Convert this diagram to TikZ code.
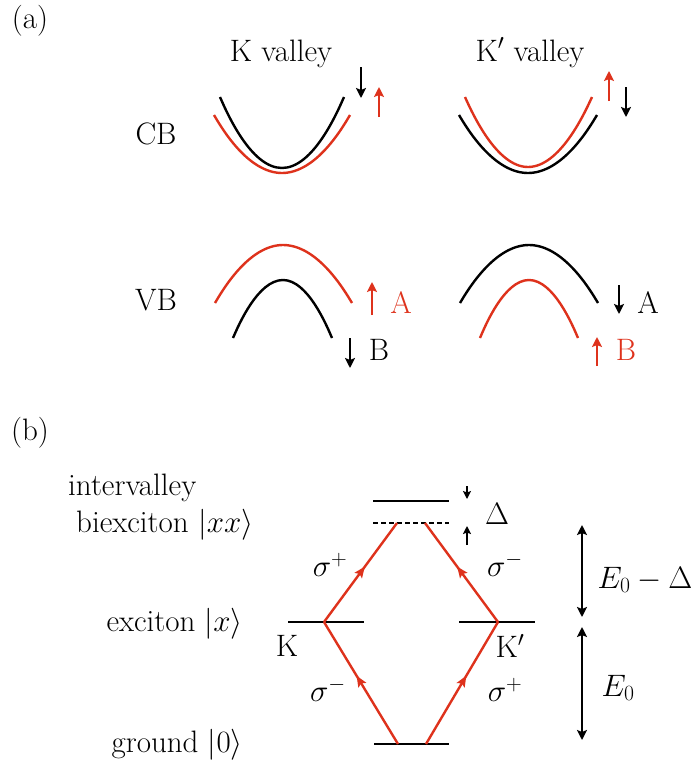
\RequirePackage{fix-cm}
\documentclass[tikz,border=0pt]{standalone}
\usetikzlibrary{arrows.meta,decorations.markings}
\definecolor{bandred}{RGB}{222,50,28}
\begin{document}
\begin{tikzpicture}[x=1pt,y=-1pt,
  lbl/.style={inner sep=0pt,font=\fontsize{31}{36}\selectfont},
  band/.style={line width=2.4pt},
  spin/.style={line width=2pt,-{Stealth[length=10pt,width=10pt,inset=2pt]}},
  smallspin/.style={line width=1.8pt,-{Stealth[length=8pt,width=8pt,inset=1.5pt]}},
  level/.style={line width=2.2pt},
  dlevel/.style={line width=2pt,dash pattern=on 5pt off 3pt},
  trans/.style={bandred,line width=2.4pt,decoration={markings,
      mark=at position 0.56 with {\arrow{Stealth[length=11pt,width=9pt,inset=2pt]}}},postaction={decorate}},
  gap/.style={line width=2pt,{Stealth[length=10pt,width=10pt,inset=2pt]}-{Stealth[length=10pt,width=10pt,inset=2pt]}}]
\useasboundingbox (0,0) rectangle (691,761);

% ---------- (a) ----------
\node[lbl,anchor=base] (la) at (30,28) {(a)};
\node[lbl,anchor=base] (kv) at (281,61) {K valley};
\node[lbl,anchor=base] (kpv) at (530,61) {K$'$ valley};
\node[lbl] (cb) at (156,134) {CB};
\node[lbl] (vb) at (156,300) {VB};

% K valley CB
\draw[band] (220,97) parabola bend (282,168) (344,97);
\draw[band,bandred] (214,115) parabola bend (282,173) (350,115);
\coordinate (s1a) at (361,67); \coordinate (s1b) at (361,98);
\coordinate (s2a) at (379,117); \coordinate (s2b) at (379,87);
\draw[spin] (s1a) -- (s1b);
\draw[spin,bandred] (s2a) -- (s2b);

% K' valley CB
\draw[band,bandred] (465,97) parabola bend (528,167) (592,97);
\draw[band] (459,115) parabola bend (528,173) (597,115);
\coordinate (s3a) at (609,101); \coordinate (s3b) at (609,71);
\coordinate (s4a) at (626,87); \coordinate (s4b) at (626,117);
\draw[spin,bandred] (s3a) -- (s3b);
\draw[spin] (s4a) -- (s4b);

% K valley VB
\draw[band,bandred] (215,303) parabola bend (283,245) (352,303);
\draw[band] (233,338) parabola bend (283,280) (332,338);
\coordinate (s5a) at (372,315); \coordinate (s5b) at (372,282);
\coordinate (s6a) at (350,338); \coordinate (s6b) at (350,368);
\draw[spin,bandred] (s5a) -- (s5b);
\draw[spin] (s6a) -- (s6b);
\node[lbl,text=bandred] (ka) at (401,303) {A};
\node[lbl] (kb) at (379,350) {B};

% K' valley VB
\draw[band] (460,303) parabola bend (529,245) (598,303);
\draw[band,bandred] (480,338) parabola bend (529,280) (578,338);
\coordinate (s7a) at (619,285); \coordinate (s7b) at (619,314);
\coordinate (s8a) at (597,366); \coordinate (s8b) at (597,337);
\draw[spin] (s7a) -- (s7b);
\draw[spin,bandred] (s8a) -- (s8b);
\node[lbl] (kpa) at (648,303) {A};
\node[lbl,text=bandred] (kpb) at (626,350) {B};

% ---------- (b) ----------
\node[lbl,anchor=base] (lb) at (30,440) {(b)};
\node[lbl,anchor=base west] (iv) at (68,495) {intervalley};
\node[lbl,anchor=base west] (bx) at (76,532) {biexciton $|xx\rangle$};
\node[lbl,anchor=base east] (ex) at (243,631) {exciton $|x\rangle$};
\node[lbl,anchor=base east] (gr) at (243,752) {ground $|0\rangle$};

\coordinate (bxL) at (373,501); \coordinate (bxR) at (449,501);
\coordinate (dL) at (373,523);  \coordinate (dR) at (449,523);
\coordinate (kL) at (288,622);  \coordinate (kR) at (364,622);
\coordinate (kpL) at (459,622); \coordinate (kpR) at (535,622);
\coordinate (gL) at (374,744);  \coordinate (gR) at (449,744);

\draw[level] (bxL) -- (bxR);
\draw[dlevel] (dL) -- (dR);
\draw[level] (kL) -- (kR);
\draw[level] (kpL) -- (kpR);
\draw[level] (gL) -- (gR);

\coordinate (g1) at (398,744); \coordinate (k1) at (324,622); \coordinate (d1) at (397,523);
\coordinate (g2) at (426,744); \coordinate (k2) at (498,622); \coordinate (d2) at (425,523);
\draw[trans] (g1) -- (k1);
\draw[trans] (k1) -- (d1);
\draw[trans] (g2) -- (k2);
\draw[trans] (k2) -- (d2);

\node[lbl] (sp1) at (330,565) {$\sigma^+$};
\node[lbl] (sm1) at (505,565) {$\sigma^-$};
\node[lbl] (sm2) at (328,690) {$\sigma^-$};
\node[lbl] (sp2) at (505,690) {$\sigma^+$};
\node[lbl] (kk) at (287,646) {K};
\node[lbl] (kkp) at (510,646) {K$'$};

\coordinate (da1) at (467,486); \coordinate (da2) at (467,499);
\coordinate (ua1) at (467,545); \coordinate (ua2) at (467,526);
\draw[smallspin] (da1) -- (da2);
\draw[smallspin] (ua1) -- (ua2);
\node[lbl] (dl) at (497,514) {$\Delta$};

\coordinate (e1a) at (582,525); \coordinate (e1b) at (582,617);
\coordinate (e2a) at (582,627); \coordinate (e2b) at (582,740);
\draw[gap] (e1a) -- (e1b);
\draw[gap] (e2a) -- (e2b);
\node[lbl] (eda) at (645,580) {$E_0-\Delta$};
\node[lbl] (e0) at (618,688) {$E_0$};
\end{tikzpicture}
\end{document}
